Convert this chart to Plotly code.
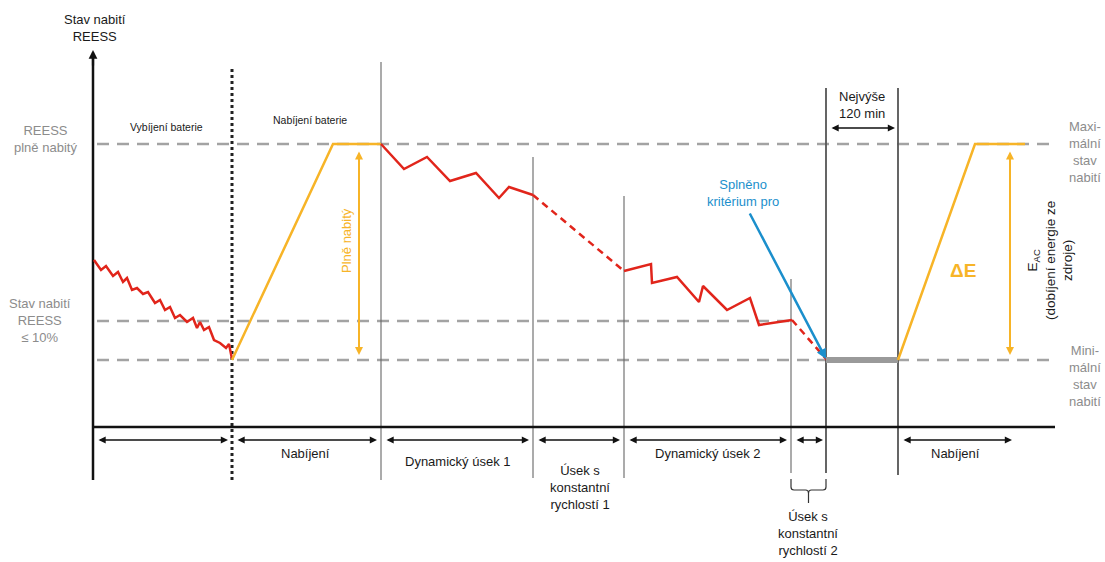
import plotly.graph_objects as go

# Schematic units: t = progress of the test, soc = state of charge of the REESS
SOC_FULL = 283
SOC_LOW = 106
SOC_MIN = 67

# Battery discharge before the test
discharge_t = [1, 8, 13, 20, 25, 30, 34, 39, 44, 50, 55, 62, 67, 72, 77, 82, 87, 94,
               100, 104, 107, 111, 116, 121, 127, 133, 136, 139]
discharge_soc = [167, 157, 161, 151, 155, 145, 149, 137, 139, 133, 135, 124, 127, 117,
                 120, 109, 112, 105, 109, 99, 105, 97, 100, 87, 84, 79, 83, 68]

# First charge
charge1_t = [139, 240, 288]
charge1_soc = [67, 283, 283]

# Dynamic segment 1
dyn1_t = [288, 311, 334, 357, 383, 406, 416, 440]
dyn1_soc = [283, 258, 270, 246, 254, 229, 240, 232]

# Constant speed segment 1
const1_t = [440, 531]
const1_soc = [232, 156]

# Dynamic segment 2
dyn2_t = [531, 558, 559, 584, 606, 610, 634, 657, 666, 699]
dyn2_soc = [156, 163, 144, 150, 125, 141, 117, 129, 102, 107]

# Constant speed segment 2
const2_t = [699, 734]
const2_soc = [107, 67]

# Break-off criterion
criterion_t = [656, 733]
criterion_soc = [215, 68]

# Soak period (at most 120 min)
soak_t = [733, 805]
soak_soc = [67, 67]

# Final charge
charge2_t = [805, 882, 932]
charge2_soc = [67, 283, 283]

# Phase boundaries
boundary_t = [139, 288, 440, 531, 698, 733, 805]
boundary_top = [359, 365, 270, 231, 148, 339, 339]
boundary_bottom = [-53, -53, -51, -51, -46, -46, -48]

# Phase span arrows below the time axis
span_start = [4, 143, 292, 444, 535, 702, 809]
span_end = [135, 284, 436, 527, 694, 730, 919]

RED = "#e1251b"
YELLOW = "#f7b427"
BLUE = "#1b8fcc"
GRAY_DASH = "#a3a3a3"
GRAY_TEXT = "#8c8c8c"
FONT = "Liberation Sans, Arial, sans-serif"

fig = go.Figure()


def add_line(t, s, color, width=2.5, dash="solid"):
    fig.add_trace(go.Scatter(x=t, y=s, mode="lines", hoverinfo="skip",
                             line=dict(color=color, width=width, dash=dash)))


# Reference levels
add_line([4, 957], [SOC_FULL, SOC_FULL], GRAY_DASH, 2.5, "12px,8px")
add_line([4, 700], [SOC_LOW, SOC_LOW], GRAY_DASH, 2.5, "12px,8px")
add_line([4, 957], [SOC_MIN, SOC_MIN], GRAY_DASH, 2.5, "12px,8px")

# Phase boundaries
for i, (t, top, bot) in enumerate(zip(boundary_t, boundary_top, boundary_bottom)):
    if i == 0:
        add_line([t, t], [bot, top], "#222222", 3, "dot")
    elif t in (733, 805):
        add_line([t, t], [bot, top], "#555555", 1.8)
    else:
        add_line([t, t], [bot, top], "#666666", 1.1)

# Axes
add_line([0, 0], [-53, 370], "#111111", 2.5)
add_line([0, 962], [0, 0], "#111111", 2.5)

# Curves
add_line(discharge_t, discharge_soc, RED, 2.5)
add_line(charge1_t, charge1_soc, YELLOW, 2.5)
add_line(dyn1_t, dyn1_soc, RED, 2.5)
add_line(const1_t, const1_soc, RED, 2.5, "7px,5px")
add_line(dyn2_t, dyn2_soc, RED, 2.5)
add_line(const2_t, const2_soc, RED, 2.5, "7px,5px")
add_line(soak_t, soak_soc, "#9a9a9a", 6)
add_line(charge2_t, charge2_soc, YELLOW, 2.5)

# Bracket under constant speed segment 2
bx0, bx1 = boundary_t[4], boundary_t[5]
bmid = (bx0 + bx1) / 2
fig.add_shape(type="path", xref="x", yref="y",
              path=(f"M {bx0},-52 L {bx0},-60 Q {bx0},-63 {bx0+3},-63 "
                    f"L {bmid-3},-63 Q {bmid},-63 {bmid},-66 L {bmid},-76 "
                    f"M {bmid},-66 Q {bmid},-63 {bmid+3},-63 L {bx1-3},-63 "
                    f"Q {bx1},-63 {bx1},-60 L {bx1},-52"),
              line=dict(color="#333333", width=1.2))

annotations = []


def arrow(x0, y0, x1, y1, color="#111111", width=1.6, both=True, size=1.0):
    annotations.append(dict(x=x1, y=y1, ax=x0, ay=y0, xref="x", yref="y",
                            axref="x", ayref="y", text="", showarrow=True,
                            arrowhead=2, arrowsize=size, arrowwidth=width,
                            arrowcolor=color,
                            arrowside="end+start" if both else "end"))


def label(x, y, text, size=13, color="#1a1a1a", angle=0, bold=False):
    annotations.append(dict(x=x, y=y, xref="x", yref="y", text=f"<b>{text}</b>" if bold else text,
                            showarrow=False, textangle=angle,
                            font=dict(family=FONT, size=size, color=color),
                            align="center", xanchor="center", yanchor="middle"))


# Y axis arrow head
arrow(0, 360, 0, 377, width=2.2, both=False, size=0.8)

# Phase span arrows
for a, b in zip(span_start, span_end):
    arrow(a, -13, b, -13, width=1.6, size=0.9)

# At most 120 min
arrow(737, 299, 802, 299, width=1.6, size=0.9)

# Charge amount arrows
arrow(266, 277, 266, 72, color=YELLOW, width=2, size=0.8)
arrow(917, 277, 917, 72, color=YELLOW, width=2, size=0.8)

# Criterion arrow
arrow(criterion_t[0], criterion_soc[0], criterion_t[1], criterion_soc[1],
      color=BLUE, width=2.5, both=False, size=0.8)

# Text
label(2, 399, "Stav nabití<br>REESS", 13)
label(-48, 288, "REESS<br>plně nabitý", 13, GRAY_TEXT)
label(-53, 107, "Stav nabití<br>REESS<br>≤ 10%", 13, GRAY_TEXT)
label(73, 300, "Vybíjení baterie", 10.5)
label(217, 307, "Nabíjení baterie", 10.5)
label(253, 186, "Plně nabitý", 13, YELLOW, angle=-90)
label(650, 234, "Splněno<br>kritérium pro", 13, BLUE)
label(769, 322, "Nejvýše<br>120 min", 13)
label(870, 157, "ΔE", 19, YELLOW, bold=True)
label(957, 166, "E<sub>AC</sub><br>(dobíjení energie ze<br>zdroje)", 13.5, angle=-90)
label(992, 275, "Maxi-<br>mální<br>stav<br>nabití", 13, GRAY_TEXT)
label(992, 51, "Mini-<br>mální<br>stav<br>nabití", 13, GRAY_TEXT)
label(212, -26, "Nabíjení", 13)
label(364, -34, "Dynamický úsek 1", 13)
label(487, -60, "Úsek s<br>konstantní<br>rychlostí 1", 13)
label(614, -26, "Dynamický úsek 2", 13)
label(715, -106, "Úsek s<br>konstantní<br>rychlostí 2", 13)
label(862, -26, "Nabíjení", 13)

fig.update_layout(
    width=1105, height=562,
    margin=dict(l=0, r=0, t=0, b=0),
    paper_bgcolor="white", plot_bgcolor="white",
    showlegend=False,
    xaxis=dict(range=[-93, 1012], visible=False, fixedrange=True),
    yaxis=dict(range=[-135, 427], visible=False, fixedrange=True),
    annotations=annotations,
    font=dict(family=FONT),
)

fig.write_html("out.html", config={"displayModeBar": False})
